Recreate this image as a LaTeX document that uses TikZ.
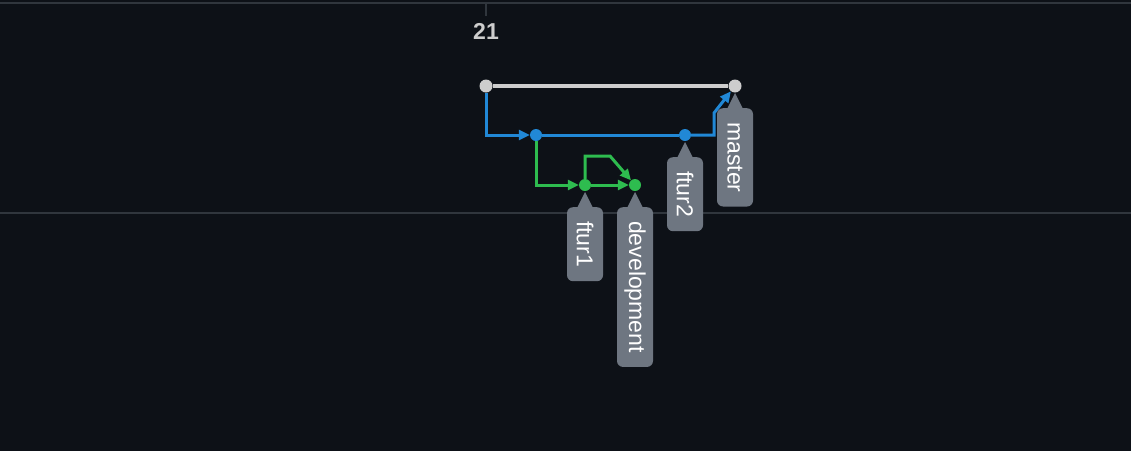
\documentclass[tikz,border=0pt]{standalone}
\usepackage{fontspec}
\setmainfont{Liberation Sans}
\usetikzlibrary{arrows.meta}
\definecolor{bgcol}{HTML}{0D1117}
\definecolor{rulecol}{HTML}{30363D}
\definecolor{graycol}{HTML}{CDCDCD}
\definecolor{bluecol}{HTML}{2188D6}
\definecolor{greencol}{HTML}{2EBC4F}
\definecolor{tagcol}{HTML}{6E7681}
\begin{document}
\begin{tikzpicture}[x=1pt,y=-1pt,
    dot/.style={circle,fill=#1,inner sep=0pt,minimum size=12pt},
    gline/.style={graycol,line width=3.5pt},
    bline/.style={bluecol,line width=3pt,-{Triangle[length=11pt,width=10pt]}},
    fline/.style={greencol,line width=3pt,-{Triangle[length=11pt,width=10pt]}},
    tag/.style={fill=tagcol,rounded corners=6pt,rotate=-90,anchor=west,
        minimum height=36pt,inner xsep=14pt,text=white,font=\fontsize{23}{23}\selectfont}]
                    \useasboundingbox (0,0) rectangle (1131,451);
                    \fill[bgcol] (0,0) rectangle (1131,451);
                    \draw[rulecol,line width=2.5pt] (0,3) -- (1131,3);
                    \draw[rulecol,line width=2pt] (486,3) -- (486,16);
                    \draw[rulecol,line width=2pt] (0,213) -- (1131,213);
                    \node[text=graycol,font=\fontsize{23}{23}\selectfont\bfseries] (num) at (486,31) {21};
                    \node[dot=graycol,minimum size=13pt] (g1) at (486,86) {};
                    \node[dot=graycol,minimum size=13pt] (m) at (735,86) {};
                    \node[dot=bluecol] (b1) at (536,135) {};
                    \node[dot=bluecol] (b2) at (685,135) {};
                    \node[dot=greencol] (f1) at (585,185) {};
                    \node[dot=greencol] (dev) at (635,185) {};
                    \draw[gline] (g1) -- (m);
                    \draw[bline] (g1) |- (b1);
                    \draw[bluecol,line width=3pt] (b1) -- (b2);
                    \draw[bline] (b2) -- (714,135) -- (714,113) -- (m);
                    \draw[fline] (b1) |- (f1);
                    \draw[fline] (f1) -- (dev);
                    \draw[fline] (f1) -- (585,156) -- (610,156) -- (dev);
                    \foreach \c/\t in {f1/ftur1,dev/development,b2/ftur2,m/master} {
                        \fill[tagcol] (\c) ++(0,7) -- ++(8,16) -- ++(-16,0) -- cycle;
                        \path (\c) ++(0,22) node[tag] (t\t) {\t};
                    }
                \end{tikzpicture}
\end{document}
